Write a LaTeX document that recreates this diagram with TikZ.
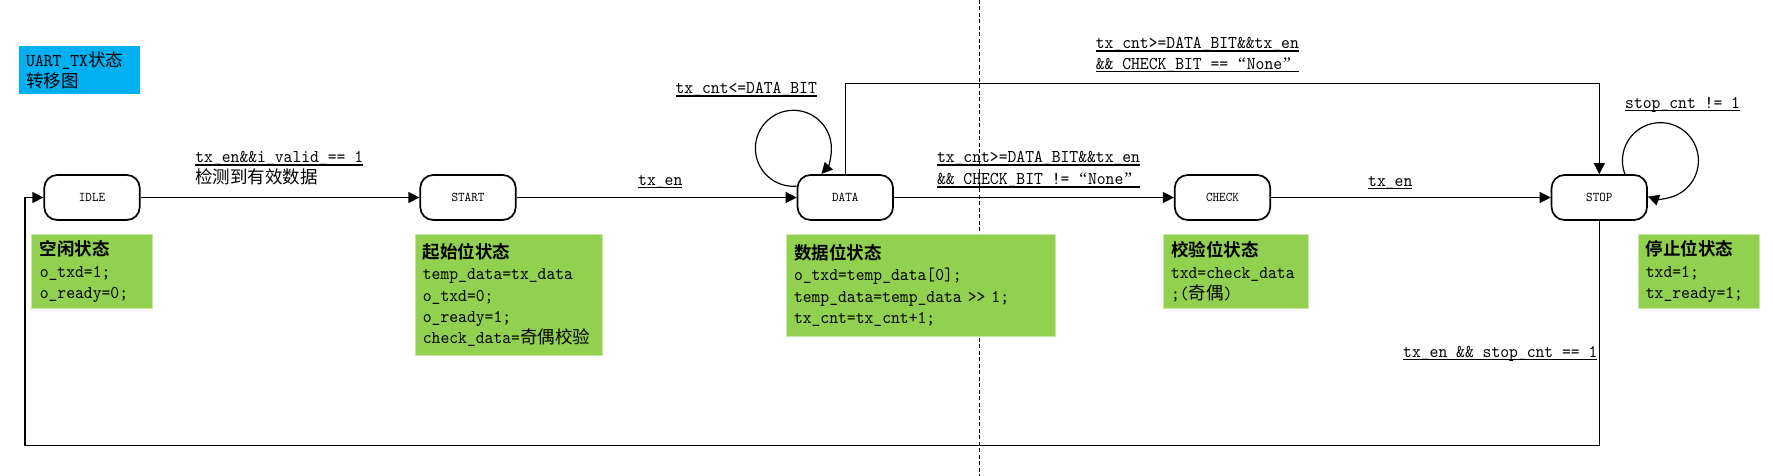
\documentclass[tikz,border=0pt]{standalone}
\usepackage{fontspec}
\setmainfont{lmmono10-regular.otf}[Scale=1.03, FakeStretch=0.933]
\newfontfamily\cjk{Noto Sans CJK SC}[BoldFont={* Bold}]
\newfontfamily\qf{Liberation Serif}
\usetikzlibrary{arrows.meta}
\definecolor{gfill}{HTML}{92D050}
\definecolor{gline}{HTML}{C9E6A8}
\definecolor{bfill}{HTML}{00B0F0}
\newcommand\ulx[1]{\setbox0\hbox{#1}\leavevmode\rlap{\vrule width\wd0 height -1.5pt depth 2.6pt}\box0}
\newcommand\ulw[2]{\leavevmode\rlap{\vrule width #1 height -1.5pt depth 2.6pt}#2}
\newcommand\qopen{{\qf\kern1pt “\kern1pt}}
\newcommand\qclose{{\qf\kern1pt ”\kern1pt}}
\begin{document}
\begin{tikzpicture}[x=1pt,y=1pt,
  every node/.style={inner sep=0pt, font=\fontsize{17.5}{21.4}\selectfont},
  state/.style={draw, line width=1.7pt, rounded corners=13pt, minimum width=95.5pt, minimum height=45pt, font=\fontsize{13}{15}\selectfont},
  gbox/.style={fill=gfill, draw=gline, line width=0.8pt, anchor=north west, align=left, inner xsep=8pt},
  lbl/.style={anchor=base west},
  conn/.style={line width=1.2pt, -{Triangle[length=11pt,width=11pt]}},
  divider/.style={line width=0.9pt, dash pattern=on 4pt off 2.5pt}
]
\useasboundingbox (0,0) rectangle (1773,476);

% title
\node[fill=bfill, minimum width=121.3pt, minimum height=48.6pt, anchor=north west, align=left, inner xsep=7.6pt, text width=106.1pt] (title) at (18.4,430.3) {UART\_TX{\cjk 状态}\\{\cjk 转移图}};

% divider
\coordinate (dtop) at (979.6,476);
\coordinate (dbot) at (979.6,0);
\draw[divider] (dtop) -- (dbot);

% states
\node[state] (idle)  at (92,278.5)     {IDLE};
\node[state] (start) at (468,278.5)    {START};
\node[state] (data)  at (845.3,278.5)  {DATA};
\node[state] (check) at (1222.5,278.5) {CHECK};
\node[state] (stop)  at (1599.3,278.5) {STOP};

% green description boxes
\node[gbox, text width=104.9pt, minimum height=74pt] (gidle) at (31.4,241.7)
  {{\cjk\bfseries 空闲状态}\\o\_txd=1;\\o\_ready=0;};
\node[gbox, text width=171.5pt, minimum height=120.7pt] (gstart) at (414.5,241.7)
  {{\cjk\bfseries 起始位状态}\\temp\_data=tx\_data\\o\_txd=0;\\o\_ready=1;\\check\_data={\cjk 奇偶校验}};
\node[gbox, text width=253.8pt, minimum height=101.7pt] (gdata) at (785.6,241.7)
  {{\cjk\bfseries 数据位状态}\\o\_txd=temp\_data[0];\\temp\_data=temp\_data >{}> 1;\\tx\_cnt=tx\_cnt+1;};
\node[gbox, text width=129.2pt, minimum height=74pt] (gcheck) at (1162.6,241.7)
  {{\cjk\bfseries 校验位状态}\\txd=check\_data\\;({\cjk 奇偶})};
\node[gbox, text width=105.7pt, minimum height=74pt] (gstop) at (1637.5,241.7)
  {{\cjk\bfseries 停止位状态}\\txd=1;\\tx\_ready=1;};

% connectors
\draw[conn] (idle) -- (start);
\draw[conn] (start) -- (data);
\draw[conn] (data) -- (check);
\draw[conn] (check) -- (stop);
\coordinate (tc) at (845.3,392.7);
\draw[conn] (data.north) -- (tc) -| (stop.north);
\coordinate (bl) at (24.9,30.7);
\draw[conn] (stop.south) |- (bl) |- (idle.west);
\draw[conn] ([yshift=-12pt]data.north west) arc[start angle=-85, end angle=-402.4, radius=38];
\draw[conn] ([xshift=-23pt]stop.north east) arc[start angle=200.8, end angle=-109.2, radius=38];

% labels
\node[lbl] (l1a) at (195.2,313) {\ulx{tx\_en\&\&i\_valid\_== 1}};
\node[lbl] (l1b) at (195.2,292) {\cjk 检测到有效数据};
\node[lbl] (l2) at (638,290.5) {\ulx{tx\_en}};
\node[lbl] (l3) at (675.4,382) {\ulx{tx\_cnt<=DATA\_BIT}};
\node[lbl] (l4a) at (936.8,313) {\ulx{tx\_cnt>=DATA\_BIT\&\&tx\_en}};
\node[lbl] (l4b) at (936.8,291) {\ulw{203pt}{\&\& CHECK\_BIT != \qopen None\qclose}};
\node[lbl] (l5a) at (1095.6,427) {\ulx{tx\_cnt>=DATA\_BIT\&\&tx\_en}};
\node[lbl] (l5b) at (1095.6,406.7) {\ulw{203pt}{\&\& CHECK\_BIT == \qopen None\qclose}};
\node[lbl] (l6) at (1368,289.5) {\ulx{tx\_en}};
\node[lbl] (l7) at (1625,367.7) {\ulx{stop\_cnt != 1}};
\node[lbl] (l8) at (1403,118.3) {\ulx{tx\_en \&\& stop\_cnt == 1}};
\end{tikzpicture}
\end{document}
